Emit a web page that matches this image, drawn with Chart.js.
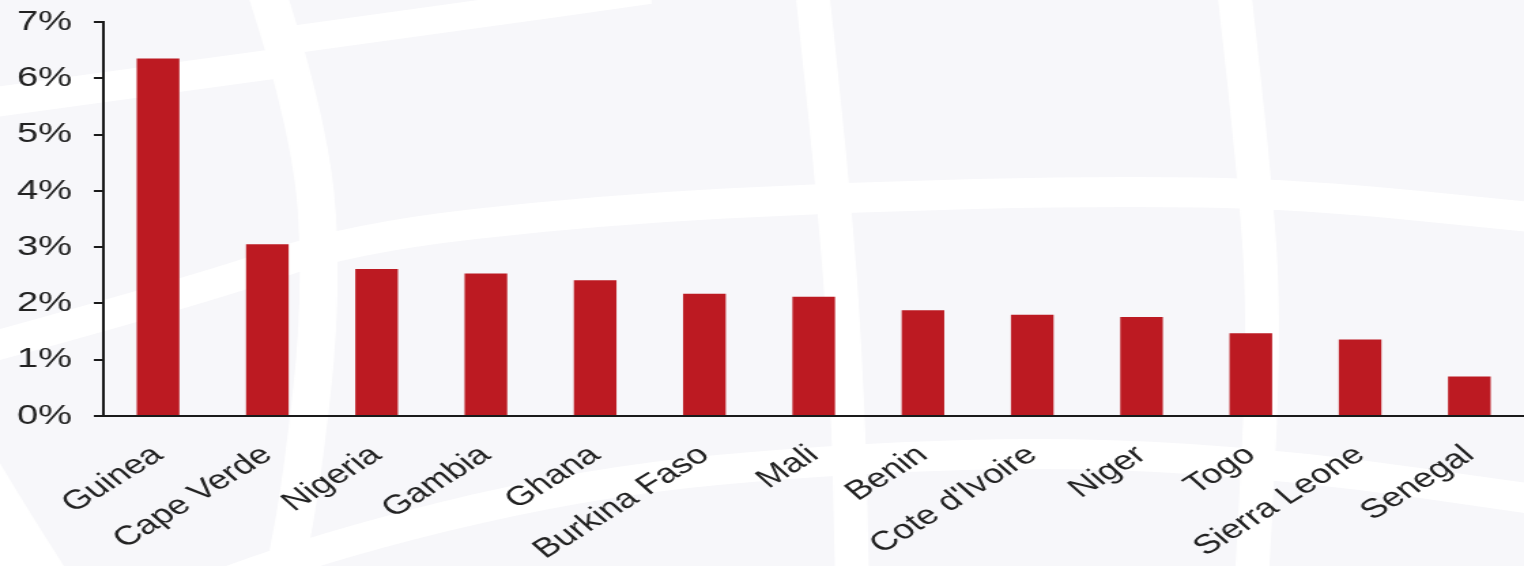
<!DOCTYPE html>
<html>
<head>
<meta charset="utf-8">
<title>Growth by country</title>
<script src="https://cdn.jsdelivr.net/npm/chart.js@4.4.1/dist/chart.umd.min.js"></script>
<style>
html, body { margin: 0; padding: 0; background: #fff; overflow: hidden; }
#wrap { width: 1524px; height: 566px; overflow: hidden; }
/* the chart is drawn narrow and stretched sideways, like the exported slide */
#myChart { display: block; transform: scaleX(1.3607); transform-origin: 0 0; }
</style>
</head>
<body>
<div id="wrap"><canvas id="myChart" width="1120" height="566"></canvas></div>
<script>
const countries = ["Guinea", "Cape Verde", "Nigeria", "Gambia", "Ghana", "Burkina Faso", "Mali",
	"Benin", "Cote d'Ivoire", "Niger", "Togo", "Sierra Leone", "Senegal"];
const growth = [6.35, 3.05, 2.61, 2.53, 2.41, 2.17, 2.12, 1.88, 1.80, 1.76, 1.47, 1.36, 0.70];
const yTickLabels = ["0%", "1%", "2%", "3%", "4%", "5%", "6%", "7%"];

const STRETCH = 1524 / 1120;
const ctx = document.getElementById('myChart');

// white bands of the globe watermark, in page pixels
const bands = [
	{ w: 30, pts: [[-20, 104], [263, 66], [300, 60]] },
	{ w: 28, pts: [[290, 40], [460, 17], [650, -10]] },
	{ w: 30, pts: [[-20, 350], [200, 290], [350, 238], [600, 210], [850, 197], [1100, 191], [1300, 194], [1540, 218]] },
	{ w: 30, pts: [[200, 592], [300, 552], [585, 482], [850, 458], [1080, 452], [1300, 466], [1540, 500]] },
	{ w: 38, pts: [[266, -10], [312, 130], [322, 300], [302, 480], [284, 576]] },
	{ w: 34, pts: [[812, -10], [835, 200], [848, 400], [852, 576]] },
	{ w: 34, pts: [[1234, -10], [1258, 200], [1264, 350], [1252, 576]] }
];

function smoothPath(c, pts) {
	c.beginPath();
	c.moveTo(pts[0][0], pts[0][1]);
	for (let i = 1; i < pts.length - 1; i++) {
		const mx = (pts[i][0] + pts[i + 1][0]) / 2;
		const my = (pts[i][1] + pts[i + 1][1]) / 2;
		c.quadraticCurveTo(pts[i][0], pts[i][1], mx, my);
	}
	const last = pts[pts.length - 1];
	c.lineTo(last[0], last[1]);
}

const globeBackdrop = {
	id: 'globeBackdrop',
	beforeDraw(chart) {
		const c = chart.ctx;
		c.save();
		c.scale(1 / STRETCH, 1);
		c.fillStyle = '#f7f7fa';
		c.fillRect(0, 0, 1524, 566);
		c.strokeStyle = '#ffffff';
		c.lineCap = 'butt';
		for (const band of bands) {
			c.lineWidth = band.w;
			smoothPath(c, band.pts);
			c.stroke();
		}
		// outside of the globe, bottom left corner
		c.fillStyle = '#ffffff';
		c.beginPath();
		c.moveTo(0, 463);
		c.quadraticCurveTo(28, 510, 64, 566);
		c.lineTo(0, 566);
		c.fill();
		c.restore();
	}
};

const family = "'Liberation Sans', Arial, sans-serif";

const myChart = new Chart(ctx, {
	type: 'bar',
	data: {
		labels: countries,
		datasets: [{
			label: 'growth',
			backgroundColor: '#bc1a22',
			borderWidth: 0,
			data: growth,
			barPercentage: 0.39,
			categoryPercentage: 1
		}]
	},
	options: {
		responsive: false,
		animation: false,
		layout: { padding: 0 },
		plugins: {
			legend: { display: false },
			tooltip: { enabled: false }
		},
		scales: {
			x: {
				grid: { display: false, drawTicks: false },
				border: { display: true, color: '#1a1a1a', width: 2 },
				ticks: {
					color: '#222',
					font: { family: family, size: 27 },
					minRotation: 40,
					maxRotation: 40,
					padding: 23,
					autoSkip: false
				},
				afterFit(scale) {
					scale.height = 150;
					scale.paddingLeft = 0;
					scale.paddingRight = 0;
				}
			},
			y: {
				min: 0,
				max: 7,
				grid: {
					drawOnChartArea: false,
					drawTicks: true,
					tickLength: 7,
					color: '#1a1a1a',
					lineWidth: 2
				},
				border: { display: true, color: '#1a1a1a', width: 2 },
				ticks: {
					stepSize: 1,
					color: '#222',
					font: { family: family, size: 28 },
					padding: 16,
					callback: (v) => yTickLabels[v]
				},
				afterFit(scale) {
					scale.width = 76;
					scale.paddingTop = 22;
				}
			}
		}
	},
	plugins: [globeBackdrop]
});
</script>
</body>
</html>
